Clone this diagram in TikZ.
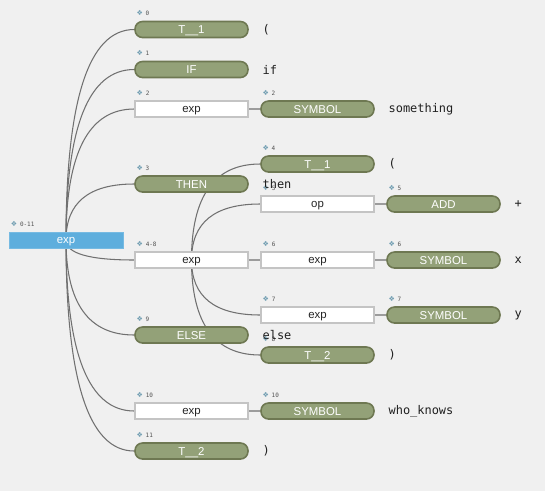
\documentclass[tikz,border=0pt]{standalone}
\usepackage{fontspec}
\setsansfont{Liberation Sans}
\setmonofont{DejaVu Sans Mono}
\newfontfamily\symfont{DejaVu Sans}
\usepackage{tikz}
\usetikzlibrary{positioning,backgrounds,calc}
\definecolor{canvasgray}{HTML}{F0F0F0}
\definecolor{leafgreen}{HTML}{93A178}
\definecolor{leafedge}{HTML}{6E7852}
\definecolor{rootblue}{HTML}{5EAEDD}
\definecolor{boxedge}{HTML}{C4C4C4}
\definecolor{linkgray}{HTML}{707070}
\definecolor{idxblue}{HTML}{6E9CB0}
\definecolor{idxtext}{HTML}{505050}
\definecolor{tokentext}{HTML}{202020}
\pgfdeclarelayer{canvas}
\pgfsetlayers{canvas,background,main}
\tikzset{
  termbox/.style={
    rectangle, rounded corners=0.15cm, draw=leafedge, fill=leafgreen,
    line width=0.9pt, minimum width=2.26cm, minimum height=0.32cm,
    inner sep=0pt, text height=4.7pt, text depth=0pt,
    font=\fontsize{6.5}{7}\sffamily, text=white
  },
  rulebox/.style={
    rectangle, draw=boxedge, fill=white, line width=0.8pt,
    minimum width=2.26cm, minimum height=0.32cm,
    inner sep=0pt, text height=4.2pt, text depth=0pt,
    font=\fontsize{6.5}{7}\sffamily, text=black!85
  },
  rootbox/.style={
    rectangle, draw=rootblue!85!white, fill=rootblue, line width=0.5pt,
    minimum width=2.28cm, minimum height=0.32cm,
    inner sep=0pt, text height=4.2pt, text depth=0pt,
    font=\fontsize{6.5}{7}\sffamily, text=white
  },
  treelink/.style={draw=linkgray, line width=0.6pt},
  idxlabel/.style={font=\fontsize{3.4}{4}\ttfamily, text=idxtext, inner sep=0pt},
  tokentext/.style={font=\fontsize{6.8}{8}\ttfamily, text=tokentext, inner sep=0pt},
}
\newcommand{\treeidx}[1]{{\symfont\fontsize{4}{4}\selectfont\color{idxblue}❖}\hspace{1.6pt}#1}
% quadratic bend through the corner below/above the parent
\newcommand{\treelinkto}[2]{%
  \coordinate (#1-#2-bend) at (#1.center |- #2.west);
  \draw[treelink] (#1.center)
    .. controls ($(#1.center)!0.667!(#1-#2-bend)$) and ($(#2.west)!0.667!(#1-#2-bend)$)
    .. (#2.west);}

\begin{document}
\begin{tikzpicture}[x=0.02cm, y=-0.02cm]
  \begin{pgfonlayer}{canvas}
    \fill[canvasgray] (0,0) rectangle (545,491);
  \end{pgfonlayer}
  \useasboundingbox (0,0) rectangle (545,491);

  % Root
  \node[rootbox] (root) at (66,240) {exp};

  % First level
  \node[termbox] (t0)  at (191.5,29.5) {T\_\_1};
  \node[termbox] (t1)  at (191.5,69.5) {IF};
  \node[rulebox] (e2)  at (191.5,109)  {exp};
  \node[termbox] (t3)  at (191.5,184)  {THEN};
  \node[rulebox] (e48) at (191.5,260)  {exp};
  \node[termbox] (t9)  at (191.5,335)  {ELSE};
  \node[rulebox] (e10) at (191.5,411)  {exp};
  \node[termbox] (t11) at (191.5,451)  {T\_\_2};

  % Second level
  \node[termbox] (s2)  at (317.5,109) {SYMBOL};
  \node[termbox] (t4)  at (317.5,164) {T\_\_1};
  \node[rulebox] (op5) at (317.5,204) {op};
  \node[rulebox] (e6)  at (317.5,260) {exp};
  \node[rulebox] (e7)  at (317.5,315) {exp};
  \node[termbox] (t8)  at (317.5,355) {T\_\_2};
  \node[termbox] (s10) at (317.5,411) {SYMBOL};

  % Third level
  \node[termbox] (add5) at (443.5,204) {ADD};
  \node[termbox] (s6)   at (443.5,260) {SYMBOL};
  \node[termbox] (s7)   at (443.5,315) {SYMBOL};

  % Links
  \begin{scope}[on background layer]
    \treelinkto{root}{t0}
    \treelinkto{root}{t1}
    \treelinkto{root}{e2}
    \treelinkto{root}{t3}
    \treelinkto{root}{e48}
    \treelinkto{root}{t9}
    \treelinkto{root}{e10}
    \treelinkto{root}{t11}
    \treelinkto{e2}{s2}
    \treelinkto{e48}{t4}
    \treelinkto{e48}{op5}
    \treelinkto{e48}{e6}
    \treelinkto{e48}{e7}
    \treelinkto{e48}{t8}
    \treelinkto{e10}{s10}
    \treelinkto{op5}{add5}
    \treelinkto{e6}{s6}
    \treelinkto{e7}{s7}
  \end{scope}

  % Token ranges
  \node[idxlabel, above right=0.09cm and 0.04cm of root.north west] {\treeidx{0-11}};
  \node[idxlabel, above right=0.09cm and 0.04cm of t0.north west]   {\treeidx{0}};
  \node[idxlabel, above right=0.09cm and 0.04cm of t1.north west]   {\treeidx{1}};
  \node[idxlabel, above right=0.09cm and 0.04cm of e2.north west]   {\treeidx{2}};
  \node[idxlabel, above right=0.09cm and 0.04cm of t3.north west]   {\treeidx{3}};
  \node[idxlabel, above right=0.09cm and 0.04cm of e48.north west]  {\treeidx{4-8}};
  \node[idxlabel, above right=0.09cm and 0.04cm of t9.north west]   {\treeidx{9}};
  \node[idxlabel, above right=0.09cm and 0.04cm of e10.north west]  {\treeidx{10}};
  \node[idxlabel, above right=0.09cm and 0.04cm of t11.north west]  {\treeidx{11}};
  \node[idxlabel, above right=0.09cm and 0.04cm of s2.north west]   {\treeidx{2}};
  \node[idxlabel, above right=0.09cm and 0.04cm of t4.north west]   {\treeidx{4}};
  \node[idxlabel, above right=0.09cm and 0.04cm of op5.north west]  {\treeidx{5}};
  \node[idxlabel, above right=0.09cm and 0.04cm of e6.north west]   {\treeidx{6}};
  \node[idxlabel, above right=0.09cm and 0.04cm of e7.north west]   {\treeidx{7}};
  \node[idxlabel, above right=0.09cm and 0.04cm of t8.north west]   {\treeidx{8}};
  \node[idxlabel, above right=0.09cm and 0.04cm of s10.north west]  {\treeidx{10}};
  \node[idxlabel, above right=0.09cm and 0.04cm of add5.north west] {\treeidx{5}};
  \node[idxlabel, above right=0.09cm and 0.04cm of s6.north west]   {\treeidx{6}};
  \node[idxlabel, above right=0.09cm and 0.04cm of s7.north west]   {\treeidx{7}};

  % Source tokens
  \node[tokentext, right=0.27cm of t0]   {(};
  \node[tokentext, right=0.27cm of t1]   {if};
  \node[tokentext, right=0.27cm of t3]   {then};
  \node[tokentext, right=0.27cm of t9]   {else};
  \node[tokentext, right=0.27cm of t11]  {)};
  \node[tokentext, right=0.27cm of s2]   {something};
  \node[tokentext, right=0.27cm of t4]   {(};
  \node[tokentext, right=0.27cm of t8]   {)};
  \node[tokentext, right=0.27cm of s10]  {who\_knows};
  \node[tokentext, right=0.27cm of add5] {+};
  \node[tokentext, right=0.27cm of s6]   {x};
  \node[tokentext, right=0.27cm of s7]   {y};
\end{tikzpicture}
\end{document}
